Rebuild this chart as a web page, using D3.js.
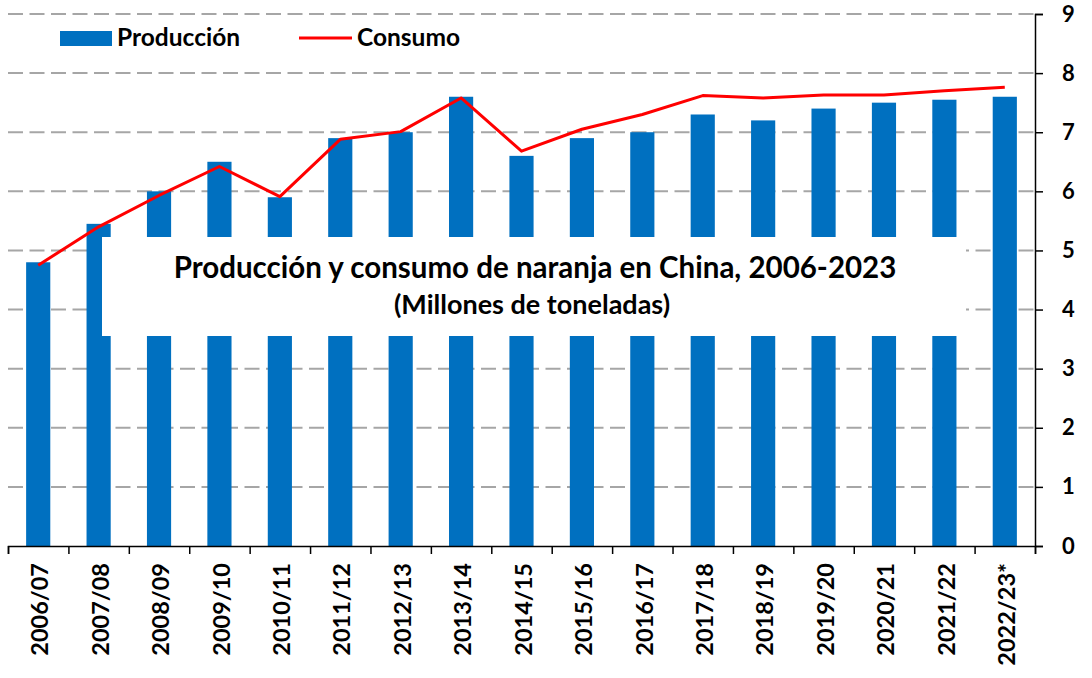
<!DOCTYPE html>
<html>
<head>
<meta charset="utf-8">
<script src="https://cdn.jsdelivr.net/npm/d3@7"></script>
<style>
  body { margin: 0; background: #fff; }
  svg { display: block; font-family: Lato, "Open Sans", sans-serif; font-weight: 700; }
</style>
</head>
<body>
<div id="chart"></div>
<script>
// data
const categories = ["2006/07", "2007/08", "2008/09", "2009/10", "2010/11", "2011/12", "2012/13", "2013/14", "2014/15",
    "2015/16", "2016/17", "2017/18", "2018/19", "2019/20", "2020/21", "2021/22", "2022/23*"];
const produccion = [4.8, 5.45, 6.0, 6.5, 5.9, 6.9, 7.0, 7.6, 6.6, 6.9, 7.0, 7.3, 7.2, 7.4, 7.5, 7.55, 7.6];
const consumo = [4.75, 5.4, 5.93, 6.42, 5.91, 6.88, 7.01, 7.58, 6.68, 7.05, 7.3, 7.62, 7.58, 7.63, 7.63, 7.7, 7.76];
const yTicks = [0, 1, 2, 3, 4, 5, 6, 7, 8, 9];

const width = 1092;
const height = 678;
//margins, the value axis sits on the right
const marginTop = 14;
const marginRight = 57;
const marginBottom = 132;
const marginLeft = 8;

const svg = d3.select("#chart").append("svg")
    .attr("width", width)
    .attr("height", height)
    .attr("viewBox", [0, 0, width, height]);

//band scale, bars take 40% of each band
const x = d3.scaleBand()
    .domain(categories)
    .range([marginLeft, width - marginRight])
    .paddingInner(0.6)
    .paddingOuter(0.3);

//linear scale over the band boundaries, used for the tick marks between categories
const xEdge = d3.scaleLinear()
    .domain([0, categories.length])
    .range([marginLeft, width - marginRight]);

const y = d3.scaleLinear()
    .domain([0, 9])
    .range([height - marginBottom, marginTop]);

// dashed gridlines
svg.append("g")
    .attr("class", "grid")
    .selectAll("line")
    .data(yTicks.filter(d => d > 0))
    .join("line")
    .attr("x1", marginLeft)
    .attr("x2", width - marginRight)
    .attr("y1", d => y(d))
    .attr("y2", d => y(d))
    .attr("stroke", "#a6a6a6")
    .attr("stroke-width", 2)
    .attr("stroke-dasharray", "15,6.5");

// bars
svg.append("g")
    .attr("fill", "#0070c0")
    .selectAll("rect")
    .data(produccion)
    .join("rect")
    .attr("x", (d, i) => x(categories[i]))
    .attr("width", x.bandwidth())
    .attr("y", d => y(d))
    .attr("height", d => y(0) - y(d));

// consumption line
const line = d3.line()
    .x((d, i) => x(categories[i]) + x.bandwidth() / 2)
    .y(d => y(d));

svg.append("path")
    .datum(consumo)
    .attr("fill", "none")
    .attr("stroke", "#ff0000")
    .attr("stroke-width", 3)
    .attr("stroke-linejoin", "round")
    .attr("d", line);

// white title box laid over the middle bars
svg.append("rect")
    .attr("x", 102)
    .attr("y", 237)
    .attr("width", 864)
    .attr("height", 99)
    .attr("fill", "#fff");

svg.append("text")
    .attr("x", 535)
    .attr("y", 278)
    .attr("text-anchor", "middle")
    .attr("font-size", "29.5px")
    .text("Producción y consumo de naranja en China, 2006-2023");

svg.append("text")
    .attr("x", 532)
    .attr("y", 314)
    .attr("text-anchor", "middle")
    .attr("font-size", "27px")
    .text("(Millones de toneladas)");

// y axis on the right
const yAxis = svg.append("g")
    .attr("transform", `translate(${width - marginRight},0)`)
    .call(d3.axisRight(y).tickValues(yTicks).tickSize(8).tickPadding(19).tickFormat(d3.format("d")));
yAxis.selectAll("line, path").attr("stroke", "#000").attr("stroke-width", 1.5);
yAxis.selectAll("text")
    .attr("font-size", "22px")
    .attr("font-family", "Lato, sans-serif")
    .attr("font-weight", 700)
    .attr("fill", "#000");

// x axis: tick marks at the band edges
const xTicks = svg.append("g")
    .attr("transform", `translate(0,${height - marginBottom})`)
    .call(d3.axisBottom(xEdge).tickValues(d3.range(categories.length + 1)).tickSize(8).tickFormat(""));
xTicks.selectAll("line, path").attr("stroke", "#000").attr("stroke-width", 1.5);

// x axis labels, rotated
const xLabels = svg.append("g")
    .attr("transform", `translate(0,${height - marginBottom})`)
    .call(d3.axisBottom(x).tickSize(0));
xLabels.select(".domain").remove();
xLabels.selectAll("text")
    .attr("font-size", "23.5px")
    .attr("font-family", "Lato, sans-serif")
    .attr("font-weight", 700)
    .attr("fill", "#000")
    .attr("transform", "rotate(-90)")
    .attr("text-anchor", "end")
    .attr("x", -17)
    .attr("y", 2)
    .attr("dy", "0.35em");

// legend
const legend = svg.append("g");
legend.append("rect")
    .attr("x", 60).attr("y", 31)
    .attr("width", 52).attr("height", 15)
    .attr("fill", "#0070c0");
legend.append("text")
    .attr("x", 117).attr("y", 46)
    .attr("font-size", "24.5px")
    .text("Producción");
legend.append("line")
    .attr("x1", 299).attr("x2", 352)
    .attr("y1", 38).attr("y2", 38)
    .attr("stroke", "#ff0000")
    .attr("stroke-width", 3);
legend.append("text")
    .attr("x", 357).attr("y", 46)
    .attr("font-size", "24.5px")
    .text("Consumo");
</script>
</body>
</html>
